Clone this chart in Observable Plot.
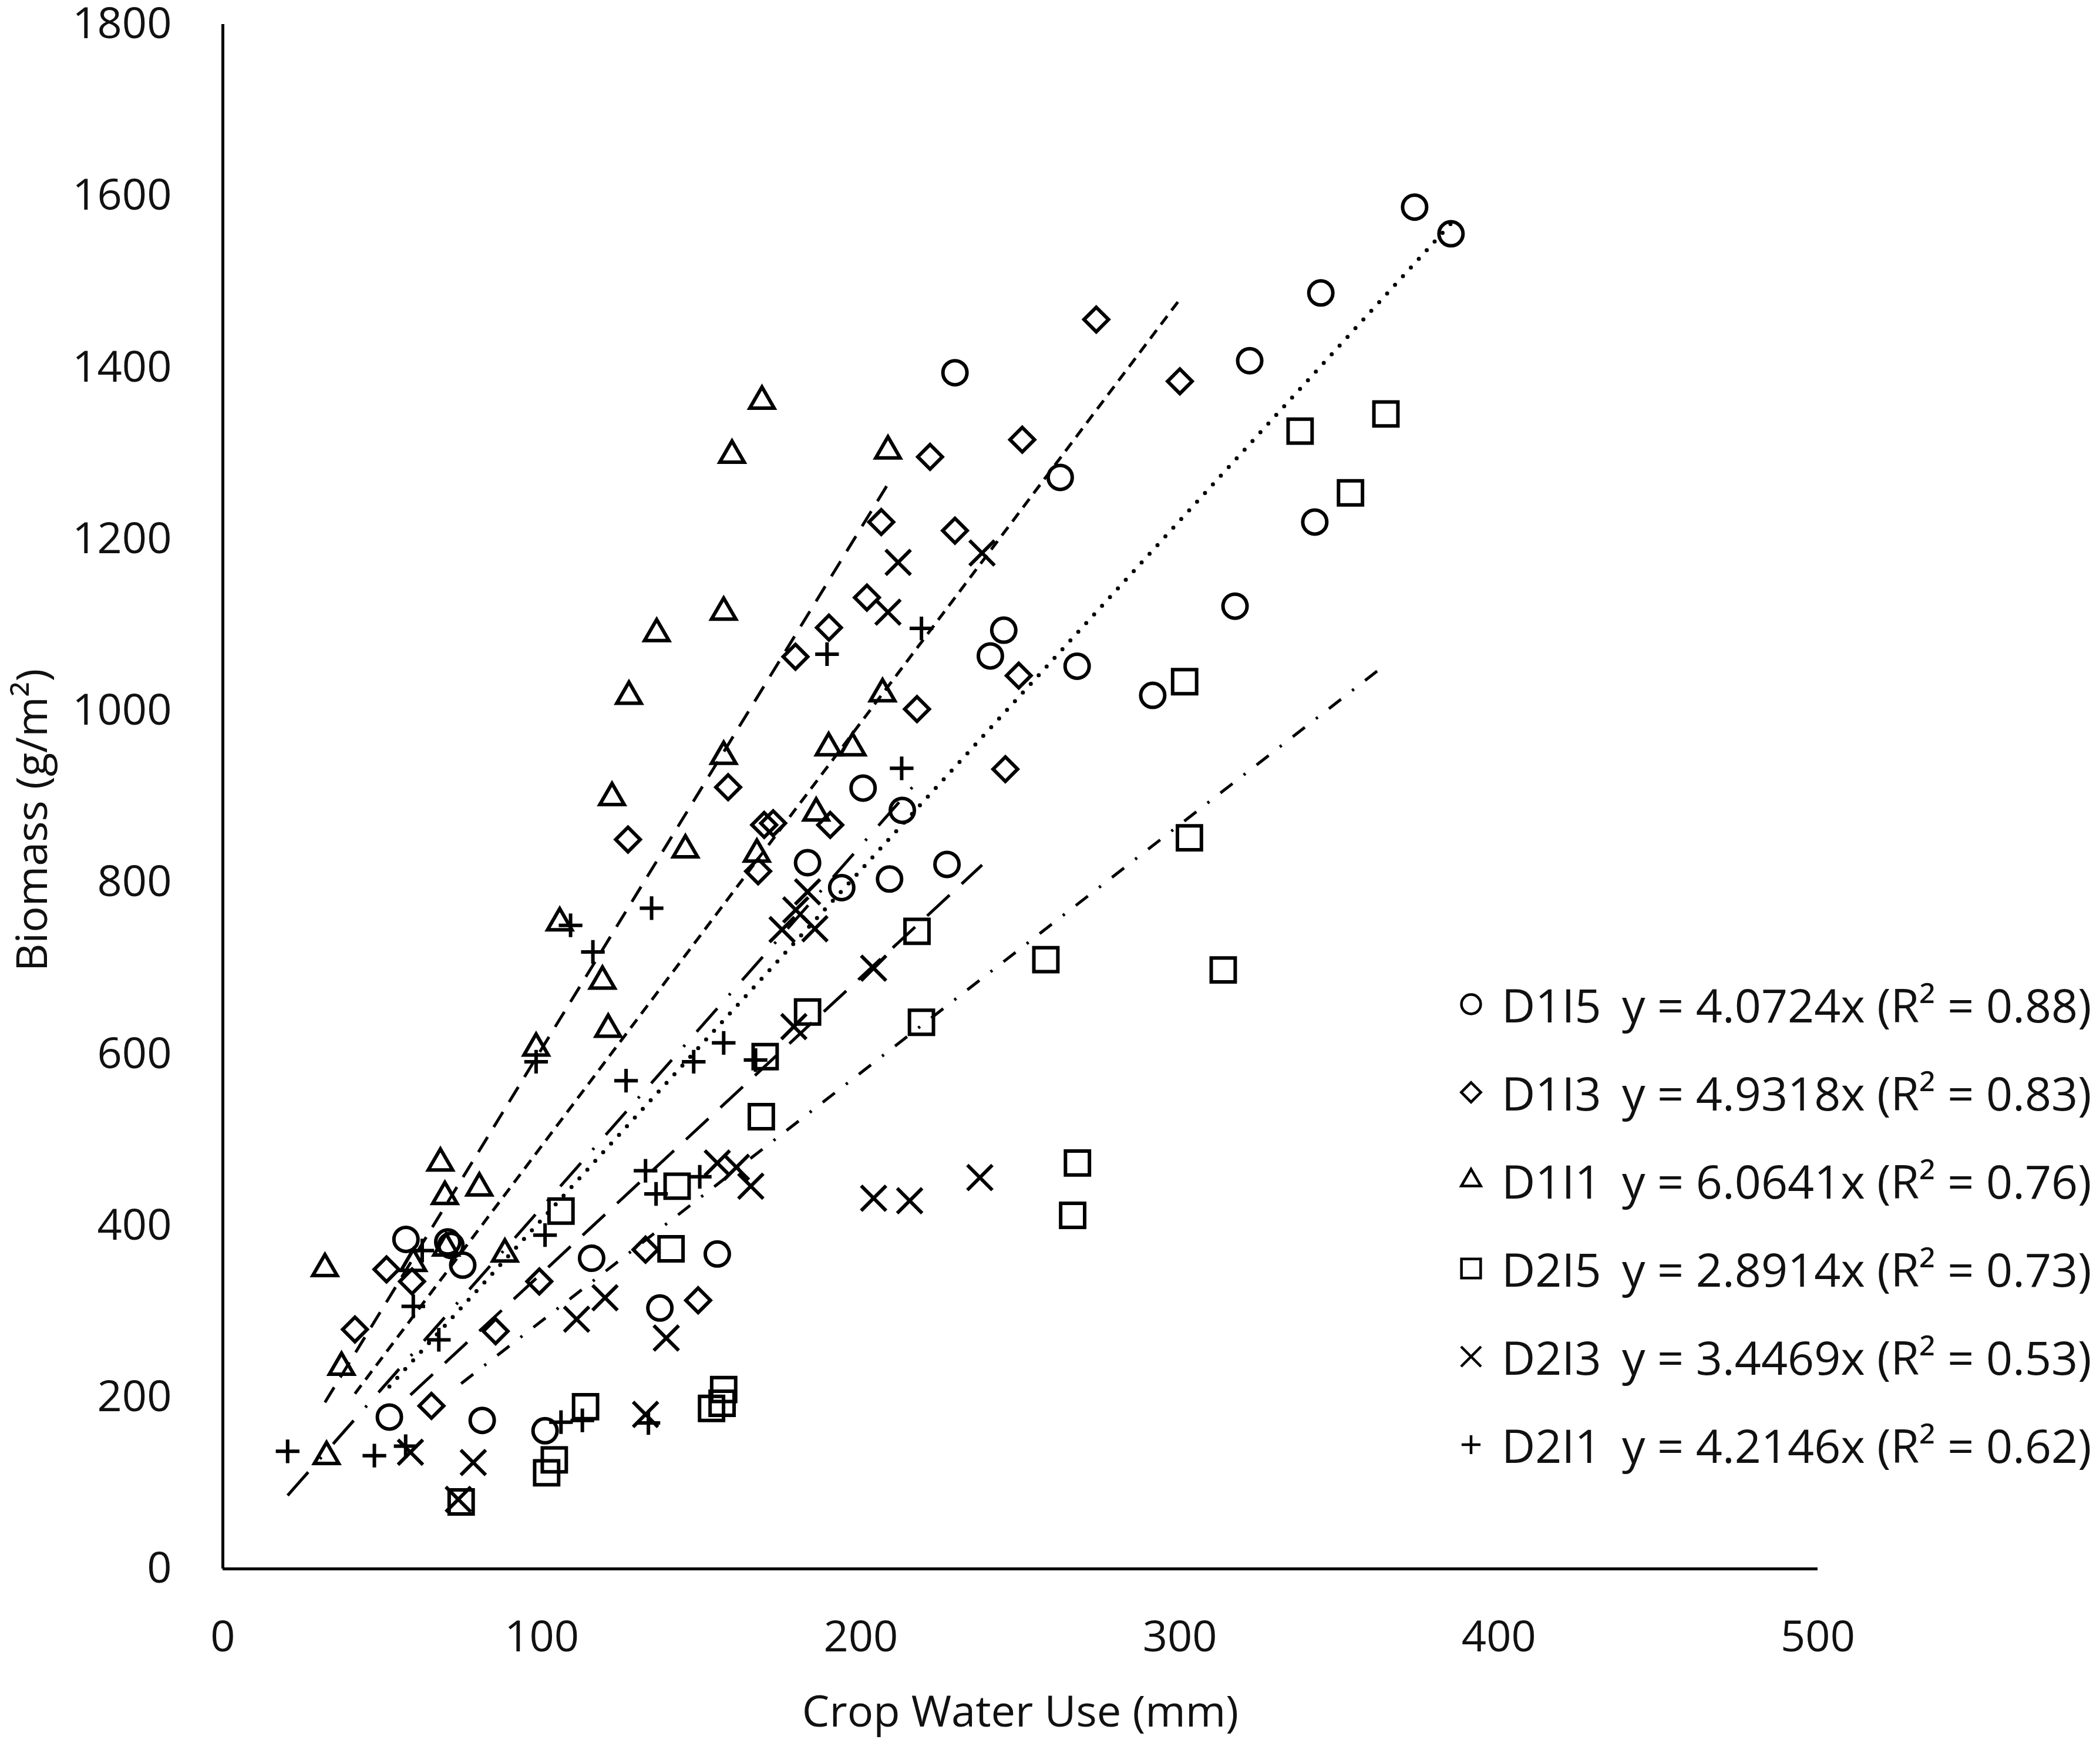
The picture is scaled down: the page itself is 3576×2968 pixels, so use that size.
<!DOCTYPE html>
<html><head><meta charset="utf-8">
<script src="https://cdn.jsdelivr.net/npm/d3@7"></script>
<script src="https://cdn.jsdelivr.net/npm/@observablehq/plot@0.6"></script>
<style>
html,body{margin:0;padding:0;background:#fff;}
#wrap{position:relative;width:3576px;height:2968px;font-family:"Open Sans",sans-serif;color:#111;}
#legend{position:absolute;left:2470px;top:1635px;}
.row{display:flex;align-items:center;height:150px;font-size:79px;white-space:pre;}
.sym{width:70px;height:60px;margin-right:17px;}
.lab{width:205px;}
</style></head><body><div id="wrap"><div id="chart"></div><div id="legend"></div></div>
<script>
// Crop water use (mm), biomass (g/m2) per treatment
const D1I5 = [[373.6,1587],[385,1556],[344.2,1487],[321.9,1408],[229.5,1394],[262.5,1272],[342.3,1220],[317.3,1122],[244.8,1094],[240.6,1064],[267.8,1052],[291.5,1018],[200.7,910],[213,884],[183.3,823],[227,821],[194,794],[209,804],[57.4,384],[70.5,381],[71.5,377],[75.2,354],[115.6,362],[155,367],[137,304],[52.2,177],[81.3,173],[101,161]];
const D1I3 = [[273.8,1456],[300,1384],[250.6,1316],[221.7,1296],[206.4,1220],[229.5,1210],[201.9,1132],[190,1097],[179.5,1063],[217.6,1002],[249.5,1041],[245.3,932],[158.4,911],[172.5,869],[169.7,867],[190.4,867],[167.8,813],[127,850],[132.5,372],[99.2,335],[149,313],[51.3,349],[59.3,335],[41.4,279],[85.5,277],[65.4,190]];
const D1I1 = [[169,1361],[159.6,1298],[208.5,1303],[136,1090],[157,1115],[127.3,1017],[157,947],[206.8,1020],[189.9,957],[197.4,957],[122,899],[186,881],[167.4,833],[145,838],[105.6,753],[119,685],[120.8,629],[98.2,607],[68.2,473],[69.6,434],[80.4,444],[88.4,367],[59.7,356],[32,350],[37.2,235],[32.5,131],[70,374]];
const D2I5 = [[364.6,1346],[337.7,1326],[353.5,1254],[301.5,1034],[303,852],[313.6,698],[258,710],[217.6,743],[219,637],[183.3,649],[170,597],[168.8,527],[142.4,446],[106,417],[140.5,373],[267.9,473],[266.4,412],[113.7,189],[157,209],[156.5,193],[153.2,187],[103.9,127],[101.5,112],[74.7,78]];
const D2I3 = [[238,1184],[211.7,1173],[208.5,1115],[183.3,789],[179.6,768],[175.3,745],[185.6,746],[204,700],[179,632],[155,473],[161,468],[165.5,446],[204,432],[215.3,429],[237.3,456],[139,269],[119.8,316],[110.9,291],[132.5,180],[78.5,124],[58.8,136],[73.8,81]];
const D2I1 = [[219,1096],[189.4,1066],[212.8,933],[134.4,770],[109,750],[116,719],[157,613],[147.6,591],[167,593],[98.2,591],[126.4,569],[132.5,464],[135.8,437],[149.5,457],[101,389],[62.5,371],[59.7,306],[67.7,267],[20.3,137],[47.5,132],[57.3,143],[106,171],[112.7,173],[133.4,170]];

const seriesNames = ["D1I5","D1I3","D1I1","D2I5","D2I3","D2I1"];
const slopes = [4.0724, 4.9318, 6.0641, 2.8914, 3.4469, 4.2146];
const r2Values = ["0.88","0.83","0.76","0.73","0.53","0.62"];
const xTicks = [0,100,200,300,400,500];
const yTicks = [0,200,400,600,800,1000,1200,1400,1600,1800];

const points = [D1I5, D1I3, D1I1, D2I5, D2I3, D2I1];
const symbols = ["circle","diamond2","triangle2","square2","times","plus"];
const radii = [20.5,18.8,19.8,26,19.4,13];
const dashes = ["0 20","18 12","30 20","26 24 4 24","52 28","53 30 4 30"];
const lineWidths = [7,5,5,5,5,5];

const marks = [];
points.forEach((pts, i) => {
  const [x0, x1] = d3.extent(pts, d => d[0]);
  const fit = [x0, x1].map(x => ({x, y: slopes[i] * x}));
  marks.push(Plot.line(fit, {x: "x", y: "y", stroke: "black", strokeWidth: lineWidths[i],
    strokeDasharray: dashes[i], strokeLinecap: i === 0 ? "round" : "butt"}));
});
points.forEach((pts, i) => {
  marks.push(Plot.dot(pts, {x: d => d[0], y: d => d[1], symbol: symbols[i], r: radii[i],
    stroke: "black", strokeWidth: 6, fill: "none"}));
});

const chart = Plot.plot({
  width: 3576, height: 2968,
  marginLeft: 379, marginRight: 481, marginTop: 41, marginBottom: 297,
  style: {fontFamily: "Open Sans", fontSize: "74px", color: "#111", background: "white"},
  x: {domain: [0, 500]},
  y: {domain: [0, 1800]},
  marks: [
    ...marks,
    Plot.axisX({ticks: xTicks, tickSize: 0, tickPadding: 88, tickFormat: d => String(d),
      label: "Crop Water Use (mm)", labelAnchor: "center", labelArrow: "none", labelOffset: 268}),
    Plot.axisY({ticks: yTicks, tickSize: 0, tickPadding: 87, tickFormat: d => String(d),
      label: "Biomass (g/m²)", labelAnchor: "center", labelArrow: "none", labelOffset: 352}),
    Plot.ruleX([0], {stroke: "black", strokeWidth: 5}),
    Plot.ruleY([0], {stroke: "black", strokeWidth: 5})
  ]
});
document.getElementById("chart").appendChild(chart);
// nudge the y-axis title down to where the reference has it
const yl = d3.select(chart).select('g[aria-label="y-axis label"]');
if (!yl.empty()) yl.attr("transform", ((yl.attr("transform") || "") + " translate(0,40)").trim());

// Legend
const legend = d3.select("#legend");
const symTypes = [d3.symbolCircle, d3.symbolDiamond2, d3.symbolTriangle2, d3.symbolSquare2, d3.symbolTimes, d3.symbolPlus];
seriesNames.forEach((name, i) => {
  const row = legend.append("div").attr("class", "row");
  const svg = row.append("svg").attr("class", "sym").attr("viewBox", "-35 -30 70 60");
  const size = Math.PI * Math.pow(radii[i] * 0.8, 2);
  svg.append("path").attr("d", d3.symbol(symTypes[i], size)())
    .attr("fill", "none").attr("stroke", "black").attr("stroke-width", 4.5);
  row.append("span").attr("class", "lab").text(name);
  row.append("span").text(`y = ${slopes[i].toFixed(4)}x (R² = ${r2Values[i]})`);
});
</script></body></html>
